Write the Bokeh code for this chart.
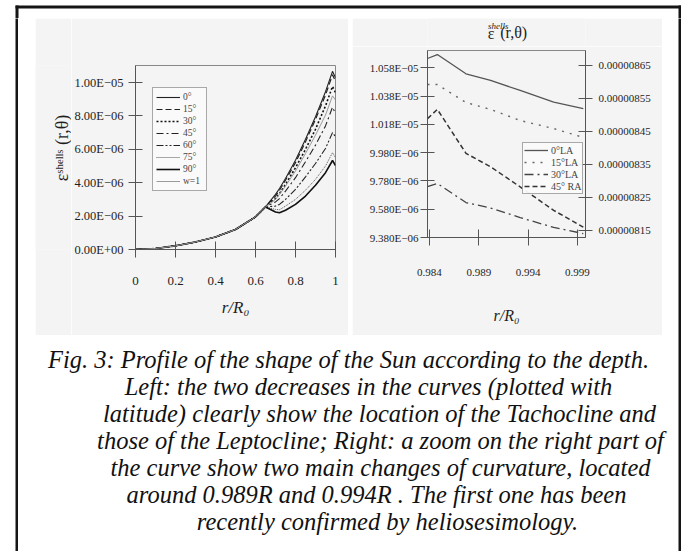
import math
from bokeh.plotting import figure
from bokeh.models import Range1d, LinearAxis, FixedTicker, Legend, LegendItem, Label
from bokeh.layouts import column, row
from bokeh.embed import file_html
from bokeh.resources import INLINE

SERIF = "Liberation Serif"

# ---------------- data: left panel (full profile) ----------------
r_left = [0.0, 0.1, 0.2, 0.3, 0.4, 0.5, 0.6, 0.65, 0.7, 0.72, 0.75, 0.8, 0.85, 0.9, 0.95, 0.985, 1.0]
lat_labels = ["0°", "15°", "30°", "45°", "60°", "75°", "90°", "w=1"]
eps_lat0 = [0, 0.06e-6, 0.22e-6, 0.45e-6, 0.75e-6, 1.2e-6, 1.95e-6, 2.55e-6, 3.3e-6, 3.65e-6, 4.25e-6, 5.35e-6, 6.6e-6, 7.95e-6, 9.45e-6, 10.67e-6, 10.28e-6]
eps_lat15 = [0, 0.06e-6, 0.22e-6, 0.45e-6, 0.75e-6, 1.2e-6, 1.95e-6, 2.55e-6, 3.2e-6, 3.55e-6, 4.15e-6, 5.2e-6, 6.45e-6, 7.8e-6, 9.25e-6, 10.46e-6, 10.08e-6]
eps_lat30 = [0, 0.06e-6, 0.22e-6, 0.45e-6, 0.75e-6, 1.2e-6, 1.95e-6, 2.55e-6, 3.05e-6, 3.35e-6, 3.9e-6, 4.9e-6, 6.0e-6, 7.2e-6, 8.6e-6, 9.76e-6, 9.40e-6]
eps_lat45 = [0, 0.06e-6, 0.22e-6, 0.45e-6, 0.75e-6, 1.2e-6, 1.95e-6, 2.55e-6, 2.85e-6, 3.05e-6, 3.5e-6, 4.3e-6, 5.25e-6, 6.25e-6, 7.4e-6, 8.52e-6, 8.16e-6]
eps_lat60 = [0, 0.06e-6, 0.22e-6, 0.45e-6, 0.75e-6, 1.2e-6, 1.95e-6, 2.55e-6, 2.6e-6, 2.7e-6, 3.0e-6, 3.6e-6, 4.35e-6, 5.15e-6, 6.05e-6, 7.0e-6, 6.75e-6]
eps_lat75 = [0, 0.06e-6, 0.22e-6, 0.45e-6, 0.75e-6, 1.2e-6, 1.95e-6, 2.55e-6, 2.4e-6, 2.38e-6, 2.6e-6, 3.0e-6, 3.55e-6, 4.2e-6, 5.0e-6, 5.8e-6, 5.5e-6]
eps_lat90 = [0, 0.06e-6, 0.22e-6, 0.45e-6, 0.75e-6, 1.2e-6, 1.95e-6, 2.55e-6, 2.25e-6, 2.2e-6, 2.35e-6, 2.7e-6, 3.2e-6, 3.85e-6, 4.6e-6, 5.33e-6, 5.03e-6]
eps_w1 = [0, 0.06e-6, 0.22e-6, 0.45e-6, 0.75e-6, 1.2e-6, 1.95e-6, 2.55e-6, 3.0e-6, 3.3e-6, 3.8e-6, 4.7e-6, 5.75e-6, 6.85e-6, 8.05e-6, 9.2e-6, 8.95e-6]

left_xticks = [0, 0.2, 0.4, 0.6, 0.8, 1.0]
left_xtick_labels = ["0", "0.2", "0.4", "0.6", "0.8", "1"]
left_yticks = [0.0, 2e-6, 4e-6, 6e-6, 8e-6, 1e-5]
left_ytick_labels = ["0.00E+00", "2.00E\u221206", "4.00E\u221206", "6.00E\u221206", "8.00E\u221206", "1.00E\u221205"]
left_ylabel = "\u03b5\u02e2\u02b0\u1d49\u02e1\u02e1\u02e2 (r,\u03b8)"

# ---------------- data: right panel (zoom near surface) ----------------
r_zoom = [0.9838, 0.9848, 0.9877, 0.9902, 0.9932, 0.9966, 0.9996]
zoom_labels = ["0°LA", "15°LA", "30°LA", "45° RA"]
zoom_lat0 = [10.645e-6, 10.673e-6, 10.537e-6, 10.490e-6, 10.419e-6, 10.336e-6, 10.290e-6]
zoom_lat15 = [10.461e-6, 10.461e-6, 10.334e-6, 10.285e-6, 10.207e-6, 10.150e-6, 10.087e-6]
zoom_lat30 = [9.740e-6, 9.762e-6, 9.627e-6, 9.588e-6, 9.521e-6, 9.451e-6, 9.408e-6]
zoom_lat45 = [8.489e-6, 8.517e-6, 8.384e-6, 8.343e-6, 8.282e-6, 8.211e-6, 8.160e-6]

zoom_xticks = [0.984, 0.989, 0.994, 0.999]
zoom_xtick_labels = ["0.984", "0.989", "0.994", "0.999"]
zoom_left_ticks = [9.38e-6, 9.58e-6, 9.78e-6, 9.98e-6, 10.18e-6, 10.38e-6, 10.58e-6]
zoom_left_labels = ["9.380E\u221206", "9.580E\u221206", "9.780E\u221206", "9.980E\u221206",
                    "1.018E\u221205", "1.038E\u221205", "1.058E\u221205"]
zoom_right_ticks = [8.15e-6, 8.25e-6, 8.35e-6, 8.45e-6, 8.55e-6, 8.65e-6]
zoom_right_labels = ["0.00000815", "0.00000825", "0.00000835", "0.00000845", "0.00000855", "0.00000865"]

eps_title_parts = ["\u03b5", "shells", "(r,\u03b8)"]

caption_lines = [
    "Fig. 3: Profile of the shape of the Sun according to the depth.",
    "Left: the two decreases in the curves (plotted with",
    "latitude) clearly show the location of the Tachocline and",
    "those of the Leptocline; Right: a zoom on the right part of",
    "the curve show two main changes of curvature, located",
    "around 0.989R and 0.994R . The first one has been",
    "recently confirmed by heliosesimology.",
]

BG = "#f4f4f4"
AXC = "#555555"
INK = "#1e1e1e"
FRAME = "#151515"


def style_axis(ax, ticks, labels, font_size, tin=7, tout=7, standoff=5):
    ax.ticker = FixedTicker(ticks=ticks)
    ax.major_label_overrides = {t: l for t, l in zip(ticks, labels)}
    ax.minor_tick_line_color = None
    ax.major_tick_in = tin
    ax.major_tick_out = tout
    ax.major_tick_line_color = AXC
    ax.axis_line_color = AXC
    ax.major_label_text_font = SERIF
    ax.major_label_text_font_size = font_size
    ax.major_label_text_color = INK
    ax.major_label_standoff = standoff


def blank(w, h, color, border=None, **borders):
    f = figure(width=w, height=h, x_range=Range1d(0, w), y_range=Range1d(h, 0),
               output_backend="svg", toolbar_location=None, min_border=0,
               outline_line_color=None, background_fill_color=color,
               border_fill_color=border or color, **borders)
    f.axis.visible = False
    f.xgrid.visible = False
    f.ygrid.visible = False
    return f


# ---------------- left panel ----------------
L_YMAX = 1.1018e-5
p1 = figure(width=277, height=317, x_range=Range1d(0, 1), y_range=Range1d(0, L_YMAX),
            output_backend="svg", toolbar_location=None,
            min_border_left=64, min_border_right=13, min_border_top=47, min_border_bottom=86,
            background_fill_color=BG, border_fill_color=BG, outline_line_color="#888888")
p1.xgrid.visible = False
p1.ygrid.visible = False
style_axis(p1.xaxis[0], left_xticks, left_xtick_labels, "13px", tin=8, tout=8, standoff=19)
style_axis(p1.yaxis[0], left_yticks, left_ytick_labels, "12.5px", tin=7, tout=7, standoff=5)
p1.xaxis[0].axis_label = "r/R\u2080"
p1.xaxis[0].axis_label_text_font = SERIF
p1.xaxis[0].axis_label_text_font_style = "italic"
p1.xaxis[0].axis_label_text_font_size = "17px"
p1.xaxis[0].axis_label_standoff = 10
p1.xaxis[0].axis_label_text_color = INK

left_series = [eps_lat0, eps_lat15, eps_lat30, eps_lat45, eps_lat60, eps_lat75, eps_lat90, eps_w1]
left_styles = [
    dict(line_color="#222222", line_width=1.1, line_dash="solid"),
    dict(line_color="#222222", line_width=1.2, line_dash="6 3"),
    dict(line_color="#111111", line_width=1.6, line_dash="2 2"),
    dict(line_color="#222222", line_width=1.1, line_dash="7 3 2 3"),
    dict(line_color="#222222", line_width=1.1, line_dash="7 2 2 2 2 2"),
    dict(line_color="#555555", line_width=1.0, line_dash="1 1"),
    dict(line_color="#111111", line_width=1.6, line_dash="solid"),
    dict(line_color="#9a9a9a", line_width=1.0, line_dash="solid"),
]
items = []
for lab, ys, st in zip(lat_labels, left_series, left_styles):
    rr = p1.line(r_left, ys, **st)
    items.append(LegendItem(label=lab, renderers=[rr]))
leg1 = Legend(items=items, location=(17, 58), label_text_font=SERIF, label_text_font_size="9.5px",
              label_height=12, glyph_height=12, glyph_width=24, label_standoff=3, spacing=0,
              padding=3, margin=0, border_line_color="#555555", background_fill_color="#fafafa")
p1.add_layout(leg1)

# rotated y-axis label in its own strip (page x 35..71, y 18..335)
LAB_X0, LAB_Y0 = 35, 18
lab_fig = blank(36, 317, BG)
lab_fig.add_layout(Label(x=61 - LAB_X0, y=160 - LAB_Y0, text=left_ylabel, angle=math.pi / 2,
                         text_font=SERIF, text_font_size="18px", text_align="center",
                         text_baseline="middle", text_color=INK))

# ---------------- right panel ----------------
R_XMIN, R_XMAX = 0.9838, 0.999824
YL0, YL1 = 9.38e-6, 1.07016e-5
YR0, YR1 = 8.1288e-6, 8.6955e-6
p2 = figure(width=310, height=289, x_range=Range1d(R_XMIN, R_XMAX), y_range=Range1d(YL0, YL1),
            output_backend="svg", toolbar_location=None,
            min_border_left=75, min_border_right=77, min_border_top=4, min_border_bottom=98,
            background_fill_color=BG, border_fill_color=BG, outline_line_color="#888888")
p2.xgrid.visible = False
p2.ygrid.visible = False
p2.extra_y_ranges = {"right": Range1d(YR0, YR1)}
rax = LinearAxis(y_range_name="right")
p2.add_layout(rax, "right")
style_axis(p2.xaxis[0], zoom_xticks, zoom_xtick_labels, "11px", tin=8, tout=8, standoff=23)
style_axis(p2.yaxis[0], zoom_left_ticks, zoom_left_labels, "11px", tin=7, tout=7, standoff=2)
style_axis(rax, zoom_right_ticks, zoom_right_labels, "11px", tin=7, tout=7, standoff=6)
p2.xaxis[0].axis_label = "r/R\u2080"
p2.xaxis[0].axis_label_text_font = SERIF
p2.xaxis[0].axis_label_text_font_style = "italic"
p2.xaxis[0].axis_label_text_font_size = "16px"
p2.xaxis[0].axis_label_standoff = 28
p2.xaxis[0].axis_label_text_color = INK

z0 = p2.line(r_zoom, zoom_lat0, line_color="#555555", line_width=1.3)
z15 = p2.line(r_zoom, zoom_lat15, line_color="#666666", line_width=1.4, line_dash="2 6")
z30 = p2.line(r_zoom, zoom_lat30, line_color="#444444", line_width=1.3, line_dash="9 4 2 4")
z45 = p2.line(r_zoom, zoom_lat45, line_color="#333333", line_width=1.5, line_dash="5 3",
              y_range_name="right")
leg2 = Legend(items=[LegendItem(label=l, renderers=[r]) for l, r in zip(zoom_labels, [z0, z15, z30, z45])],
              location=(95, 43), label_text_font=SERIF, label_text_font_size="10px",
              label_height=12, glyph_height=12, glyph_width=24, label_standoff=3, spacing=0,
              padding=1, margin=0, border_line_color="#555555", background_fill_color="#fafafa")
p2.add_layout(leg2)

# title strip above the right panel (page x 352..662, y 18..46)
TIT_X0, TIT_Y0 = 352, 18
title_fig = blank(310, 28, BG)
for txt, px, py, size, style in [(eps_title_parts[0], 477, 33, "16px", "normal"),
                                  (eps_title_parts[1], 491, 25, "9px", "italic"),
                                  (eps_title_parts[2], 521, 32, "16px", "normal")]:
    title_fig.add_layout(Label(x=px - TIT_X0, y=py - TIT_Y0, text=txt, text_font=SERIF, text_font_size=size,
                               text_font_style=style, text_align="center", text_baseline="middle",
                               text_color=INK))

# ---------------- caption ----------------
CAP_W, CAP_H = 660, 216
CAP_X0, CAP_Y0 = 18, 335
cap = blank(CAP_W, CAP_H, "white")
cap_x = [348, 368, 379, 380, 380, 376, 387]
cap_y = [359, 386, 413, 440, 467, 494, 521]
for txt, cx, cy in zip(caption_lines, cap_x, cap_y):
    cap.add_layout(Label(x=cx - CAP_X0, y=cy - CAP_Y0, text=txt, text_font=SERIF, text_font_size="24.5px",
                         text_font_style="italic", text_align="center", text_baseline="middle",
                         text_color="#111111"))

# ---------------- frame and layout (page origin at 0,0) ----------------
# top strip (page y 0..18): the frame's top edge and the upper ends of its sides
TOP_H = 18
top_fig = blank(CAP_W + 21, TOP_H, "white")
top_fig.quad(left=[15, 15, 678], right=[681, 18, 681], top=[5, 5, 5], bottom=[8, TOP_H, TOP_H],
             fill_color=FRAME, line_color=None)

top_row = row(row(lab_fig, p1, margin=(0, 0, 0, 17)),
              column(title_fig, p2, margin=(0, 0, 0, 4)))
inner = column(top_row, cap)
BODY_H = 317 + CAP_H
left_bar = blank(3, BODY_H, FRAME)
right_bar = blank(3, BODY_H, FRAME)
layout = column(top_fig, row(blank(15, BODY_H, "white"), left_bar, inner, right_bar))

open("out.html", "w").write(file_html(layout, INLINE))
